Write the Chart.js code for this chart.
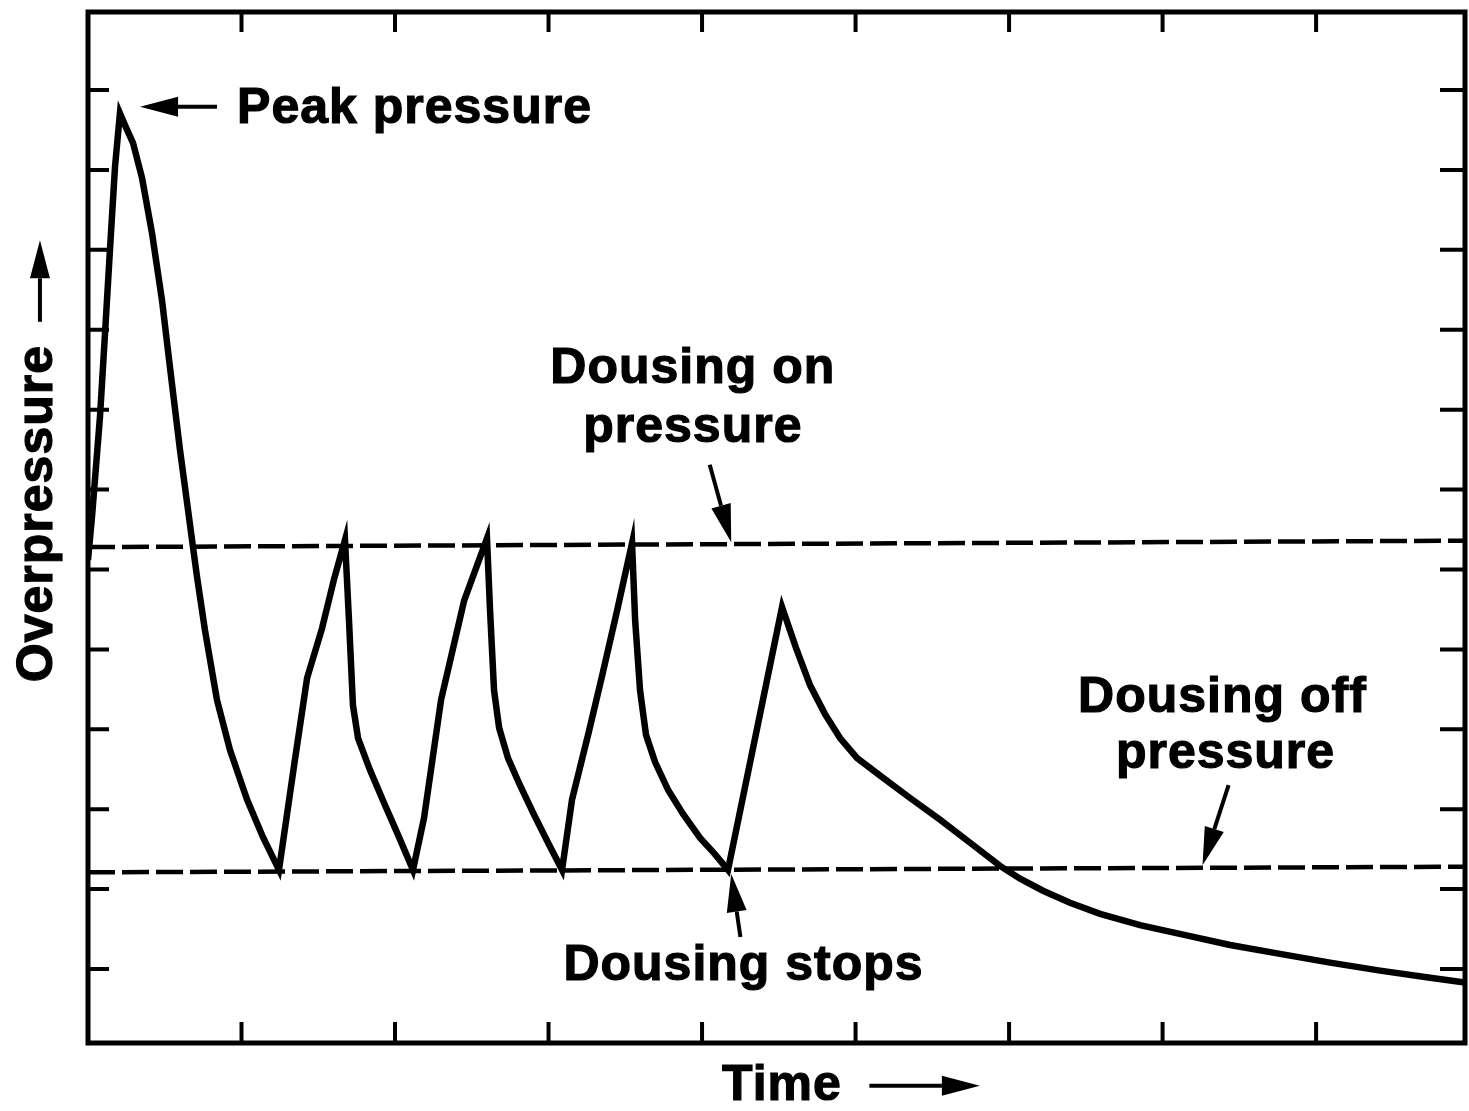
<!DOCTYPE html>
<html>
<head>
<meta charset="utf-8">
<title>Overpressure vs Time</title>
<script src="https://cdn.jsdelivr.net/npm/chart.js@4.4.1/dist/chart.umd.min.js"></script>
<style>
  html, body { margin: 0; padding: 0; background: #fff; }
  #chart { display: block; }
</style>
</head>
<body>
<canvas id="chart" width="1469" height="1111"></canvas>
<script>
// pressure trace (arbitrary units, one unit = one tick interval)
const time = [0, 0.026, 0.078, 0.111, 0.143, 0.176, 0.208, 0.248, 0.293, 0.352, 0.417, 0.482, 0.534, 0.599, 0.684, 0.710, 0.762, 0.840, 0.925, 1.036, 1.140, 1.244,
  1.342, 1.427, 1.524, 1.603, 1.674, 1.700, 1.726, 1.759, 1.837, 1.935, 2.026, 2.117,
  2.189, 2.300, 2.450, 2.599, 2.619, 2.645, 2.678, 2.736, 2.814, 2.906, 2.997, 3.088,
  3.153, 3.264, 3.349, 3.446, 3.544, 3.564, 3.596, 3.635, 3.694, 3.779, 3.876, 3.987, 4.078, 4.169,
  4.521, 4.612, 4.704, 4.801, 4.899, 5.010, 5.160, 5.355, 5.550, 5.746, 5.941, 6.072, 6.221, 6.397,
  6.593, 6.853, 7.134, 7.440, 7.765, 8.091, 8.417, 8.743, 8.970];
const overpressure = [6.12, 6.66, 7.91, 8.96, 10.00, 11.04, 11.71, 11.53, 11.34, 10.90, 10.21, 9.37, 8.53, 7.50, 6.28, 5.91, 5.24, 4.37, 3.74, 3.12, 2.65, 2.24,
  3.54, 4.64, 5.26, 5.88, 6.37, 5.37, 4.30, 3.89, 3.49, 3.05, 2.65, 2.24,
  2.89, 4.37, 5.61, 6.39, 5.49, 4.49, 4.02, 3.64, 3.30, 2.93, 2.58, 2.24,
  3.12, 3.98, 4.67, 5.48, 6.33, 5.37, 4.49, 3.93, 3.59, 3.24, 2.94, 2.64, 2.45, 2.24,
  5.53, 5.02, 4.55, 4.19, 3.89, 3.64, 3.42, 3.14, 2.87, 2.58, 2.29, 2.13, 1.98, 1.83,
  1.69, 1.55, 1.43, 1.30, 1.19, 1.08, 0.98, 0.89, 0.83];

// dashed threshold lines (ends)
const thresholdTime = [0, 8.97];
const dousingOnLevel = [6.28, 6.36];
const dousingOffLevel = [2.21, 2.28];

// unlabeled tick marks
const xTicks = [1, 2, 3, 4, 5, 6, 7, 8];
const yTicks = [1, 2, 3, 4, 5, 6, 7, 8, 9, 10, 11, 12];

// annotation texts, in data units
const labels = [
  { text: 'Peak pressure', x: 0.971, y: 11.59, align: 'left' },
  { text: 'Dousing on', x: 3.94, y: 8.33, align: 'center' },
  { text: 'pressure', x: 3.94, y: 7.60, align: 'center' },
  { text: 'Dousing off', x: 7.39, y: 4.22, align: 'center' },
  { text: 'pressure', x: 7.41, y: 3.52, align: 'center' },
  { text: 'Dousing stops', x: 4.27, y: 0.86, align: 'center' },
  { text: 'Time', x: 4.13, y: -0.64, align: 'left' }
];
const arrows = [
  { from: [0.84, 11.79], to: [0.339, 11.79] },
  { from: [4.05, 7.31], to: [4.19, 6.34] },
  { from: [7.43, 3.30], to: [7.26, 2.30] },
  { from: [4.25, 1.40], to: [4.19, 2.19] },
  { from: [5.09, -0.46], to: [5.81, -0.46] },
  { from: [-0.313, 9.10], to: [-0.313, 10.12] }
];
const yTitle = { text: 'Overpressure', x: -0.326, y: 4.59 };

function pt(chart, p) {
  return [chart.scales.x.getPixelForValue(p[0]), chart.scales.y.getPixelForValue(p[1])];
}

function drawArrow(ctx, a, b) {
  const ang = Math.atan2(b[1] - a[1], b[0] - a[0]);
  const headLen = 38, headW = 10;
  const bx = b[0] - Math.cos(ang) * headLen, by = b[1] - Math.sin(ang) * headLen;
  ctx.beginPath();
  ctx.moveTo(a[0], a[1]);
  ctx.lineTo(bx, by);
  ctx.lineWidth = 4;
  ctx.stroke();
  ctx.beginPath();
  ctx.moveTo(b[0], b[1]);
  ctx.lineTo(bx + Math.sin(ang) * headW, by - Math.cos(ang) * headW);
  ctx.lineTo(bx - Math.sin(ang) * headW, by + Math.cos(ang) * headW);
  ctx.closePath();
  ctx.fill();
}

function boldText(ctx, text, x, y) {
  ctx.lineWidth = 1.2;
  ctx.strokeText(text, x, y);
  ctx.fillText(text, x, y);
}

const framePlugin = {
  id: 'frame',
  afterDraw(chart) {
    const ctx = chart.ctx;
    const area = chart.chartArea;
    const xs = chart.scales.x, ys = chart.scales.y;
    ctx.save();
    ctx.strokeStyle = '#000';
    ctx.fillStyle = '#000';
    ctx.lineCap = 'butt';

    // frame
    ctx.lineWidth = 5;
    ctx.strokeRect(area.left, area.top, area.right - area.left, area.bottom - area.top);

    // inward ticks
    ctx.lineWidth = 4;
    ctx.beginPath();
    xTicks.forEach(v => {
      const px = xs.getPixelForValue(v);
      ctx.moveTo(px, area.bottom); ctx.lineTo(px, area.bottom - 21);
      ctx.moveTo(px, area.top); ctx.lineTo(px, area.top + 20);
    });
    yTicks.forEach(v => {
      const py = ys.getPixelForValue(v);
      ctx.moveTo(area.left, py); ctx.lineTo(area.left + 21, py);
      ctx.moveTo(area.right, py); ctx.lineTo(area.right - 25, py);
    });
    ctx.stroke();

    // texts
    ctx.font = 'bold 50px "Liberation Sans", Arial, sans-serif';
    ctx.letterSpacing = '1px';
    ctx.textBaseline = 'alphabetic';
    labels.forEach(l => {
      const p = pt(chart, [l.x, l.y]);
      ctx.textAlign = l.align;
      boldText(ctx, l.text, p[0], p[1]);
    });

    // rotated y title
    const t = pt(chart, [yTitle.x, yTitle.y]);
    ctx.save();
    ctx.translate(t[0], t[1]);
    ctx.rotate(-Math.PI / 2);
    ctx.textAlign = 'left';
    ctx.textBaseline = 'middle';
    boldText(ctx, yTitle.text, 0, 0);
    ctx.restore();

    arrows.forEach(a => drawArrow(ctx, pt(chart, a.from), pt(chart, a.to)));
    ctx.restore();
  }
};

const ctx = document.getElementById('chart').getContext('2d');
new Chart(ctx, {
  type: 'scatter',
  data: {
    datasets: [
      {
        label: 'Dousing on pressure',
        data: thresholdTime.map((t, i) => ({ x: t, y: dousingOnLevel[i] })),
        showLine: true,
        borderColor: '#000',
        borderWidth: 4.5,
        borderDash: [27, 7],
        pointRadius: 0
      },
      {
        label: 'Dousing off pressure',
        data: thresholdTime.map((t, i) => ({ x: t, y: dousingOffLevel[i] })),
        showLine: true,
        borderColor: '#000',
        borderWidth: 4.5,
        borderDash: [27, 7],
        pointRadius: 0
      },
      {
        label: 'Overpressure',
        data: time.map((t, i) => ({ x: t, y: overpressure[i] })),
        showLine: true,
        borderColor: '#000',
        borderWidth: 6.5,
        tension: 0,
        pointRadius: 0
      }
    ]
  },
  options: {
    responsive: false,
    animation: false,
    layout: { padding: { left: 88, top: 12, right: 4, bottom: 68 } },
    plugins: {
      legend: { display: false },
      tooltip: { enabled: false }
    },
    scales: {
      x: { type: 'linear', min: 0, max: 8.97, display: false },
      y: { type: 'linear', min: 0.074, max: 12.977, display: false }
    }
  },
  plugins: [framePlugin]
});
</script>
</body>
</html>
